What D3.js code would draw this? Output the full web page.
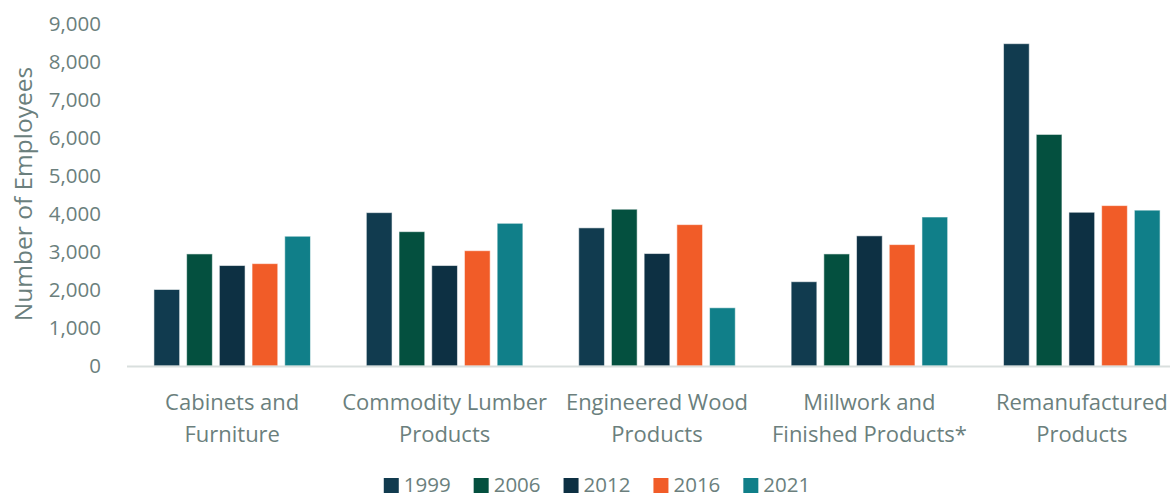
<!DOCTYPE html>
<html>
<head>
<meta charset="utf-8">
<script src="https://cdn.jsdelivr.net/npm/d3@7/dist/d3.min.js"></script>
<style>
  html, body { margin: 0; padding: 0; background: #fff; }
  svg { display: block; font-family: "Open Sans", "Noto Sans", sans-serif; }
</style>
</head>
<body>
<svg id="chart" width="1170" height="498"></svg>
<script>
// Employment by wood-products sector and survey year
const categories = [
  ["Cabinets and", "Furniture"],
  ["Commodity Lumber", "Products"],
  ["Engineered Wood", "Products"],
  ["Millwork and", "Finished Products*"],
  ["Remanufactured", "Products"]
];
const years = ["1999", "2006", "2012", "2016", "2021"];
const values1999 = [2010, 4030, 3630, 2215, 8470];
const values2006 = [2945, 3530, 4120, 2945, 6085];
const values2012 = [2640, 2640, 2955, 3420, 4040];
const values2016 = [2690, 3030, 3715, 3190, 4215];
const values2021 = [3410, 3750, 1530, 3915, 4095];
const seriesValues = [values1999, values2006, values2012, values2016, values2021];
const yTicks = [0, 1000, 2000, 3000, 4000, 5000, 6000, 7000, 8000, 9000];
const colors = ["#113b4f", "#04503f", "#0d3043", "#f15c28", "#107f89"];
const yTitle = "Number of Employees";

const svg = d3.select("#chart");
const textColor = "#6b7f7d";

const catKeys = categories.map(c => c.join(" "));
const x0 = d3.scaleBand().domain(catKeys).range([126, 1188]).paddingInner(0.263).paddingOuter(0.1315);
const x1 = d3.scaleBand().domain(years).range([0, x0.bandwidth()]).paddingInner(0.214).paddingOuter(0);
const y = d3.scaleLinear().domain([0, 9000]).range([366, 23.5]);

// y axis tick labels
const yAxis = d3.axisLeft(y).tickValues(yTicks).tickFormat(d3.format(",")).tickSize(0).tickPadding(0);
const gy = svg.append("g").attr("transform", "translate(101,0)").call(yAxis);
gy.select(".domain").remove();
gy.selectAll("text").attr("fill", textColor).style("font-size", "20.5px")
  .style("font-family", "'Open Sans', sans-serif").attr("dy", "0.34em");

// y axis title
svg.append("text")
  .attr("transform", "translate(32,194) rotate(-90)")
  .attr("text-anchor", "middle")
  .attr("fill", textColor)
  .style("font-size", "24.5px")
  .text(yTitle);

// bars
const groups = svg.append("g").selectAll("g")
  .data(catKeys)
  .join("g")
  .attr("transform", d => `translate(${x0(d)},0)`);

groups.selectAll("rect")
  .data((d, ci) => years.map((yr, si) => ({ yr, si, v: seriesValues[si][ci] })))
  .join("rect")
  .attr("x", d => x1(d.yr))
  .attr("y", d => y(d.v))
  .attr("width", x1.bandwidth())
  .attr("height", d => y(0) - y(d.v))
  .attr("fill", d => colors[d.si])
  .attr("stroke", "#ffffff")
  .attr("stroke-opacity", 0.55)
  .attr("stroke-width", 1);

// x axis baseline
svg.append("line")
  .attr("x1", 127).attr("x2", 1170)
  .attr("y1", y(0) + 0.5).attr("y2", y(0) + 0.5)
  .attr("stroke", "#d9dfde").attr("stroke-width", 2);

// category labels
const xAxis = svg.append("g");
categories.forEach((lines, i) => {
  const cx = x0(catKeys[i]) + x0.bandwidth() / 2;
  const t = xAxis.append("text")
    .attr("text-anchor", "middle")
    .attr("fill", textColor)
    .style("font-size", "22px");
  lines.forEach((ln, j) => {
    t.append("tspan").attr("x", cx).attr("y", 410 + j * 32).text(ln);
  });
});

// legend
const legend = svg.append("g");
let lx = 0;
years.forEach((yr, i) => {
  const g = legend.append("g").attr("transform", `translate(${lx},0)`);
  g.append("rect").attr("x", 0).attr("y", 478).attr("width", 15).attr("height", 15).attr("fill", colors[i]);
  const t = g.append("text").attr("x", 20).attr("y", 492).attr("fill", textColor)
    .style("font-size", "20.5px").text(yr);
  lx += 20 + t.node().getComputedTextLength() + 23;
});
const totalW = lx - 23;
legend.attr("transform", `translate(${597 - totalW / 2},0)`);
</script>
</body>
</html>
